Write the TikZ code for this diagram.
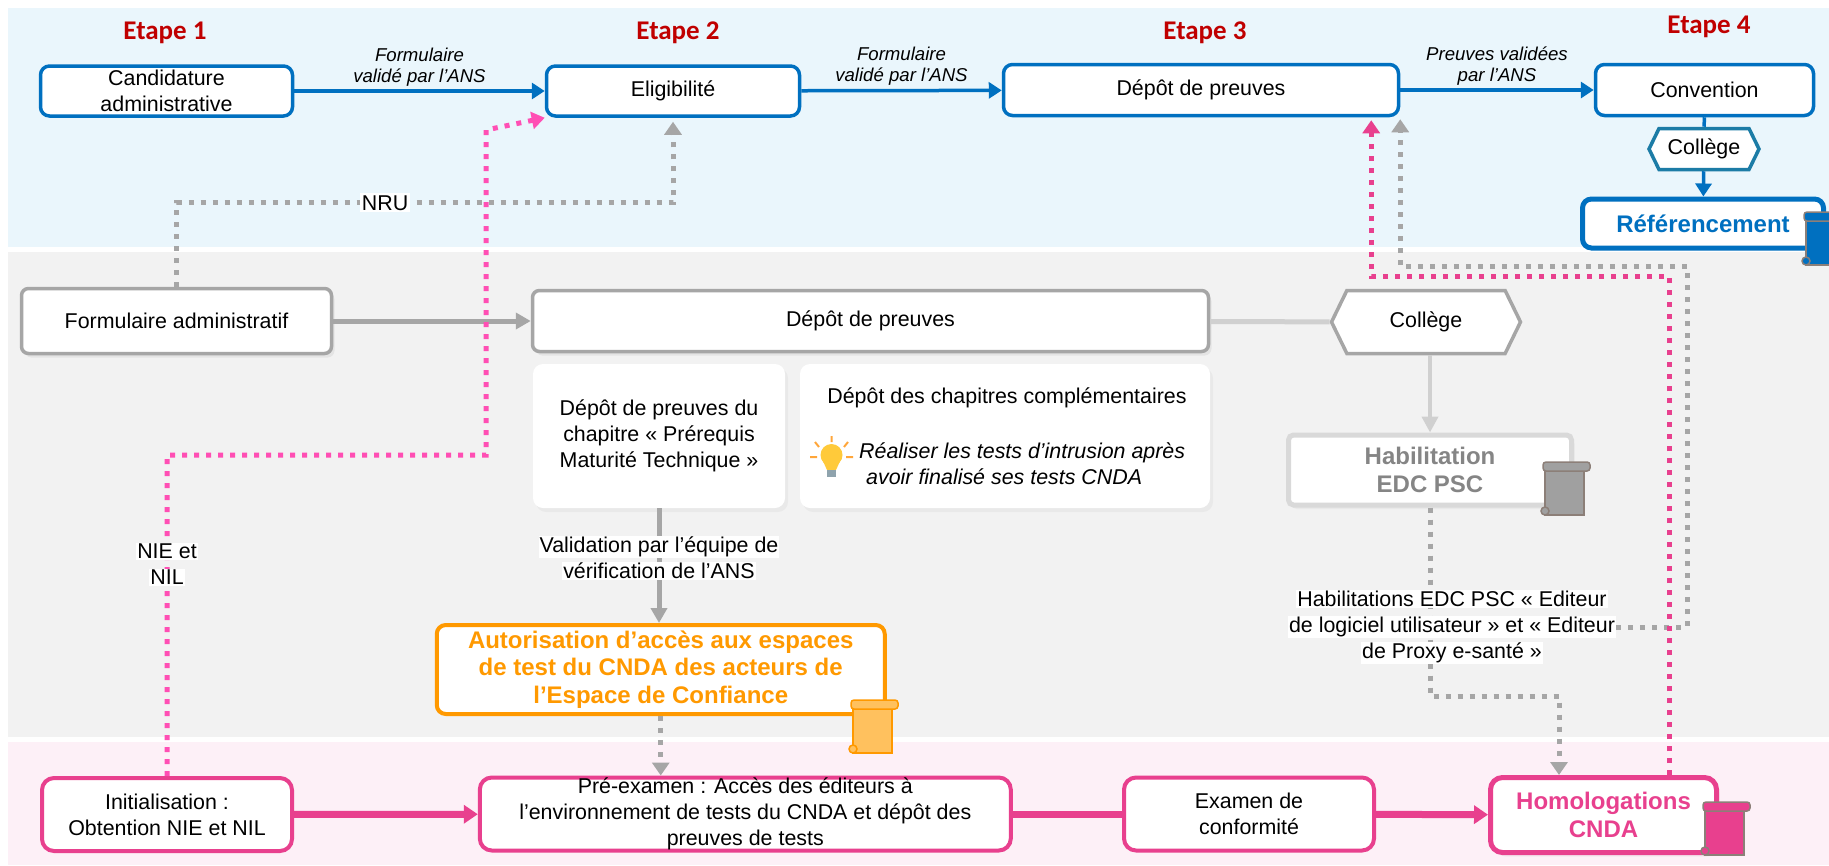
\documentclass[tikz,border=0pt]{standalone}
\usepackage{fontspec}
\setmainfont{Liberation Sans}
\newfontfamily\etapefont{Carlito}
\usetikzlibrary{arrows.meta, shapes.symbols, shadows}

\definecolor{bleuANS}{HTML}{0070C0}
\definecolor{bleuCollege}{HTML}{1C7CA6}
\definecolor{fondBleu}{HTML}{EAF6FC}
\definecolor{fondGris}{HTML}{F2F2F2}
\definecolor{fondRose}{HTML}{FDF0F7}
\definecolor{grisBord}{HTML}{A6A6A6}
\definecolor{grisClair}{HTML}{D0D0D0}
\definecolor{grisHabil}{HTML}{D9D9D9}
\definecolor{grisTexte}{HTML}{858585}
\definecolor{grisRouleau}{HTML}{A0A0A0}
\definecolor{orangeCNDA}{HTML}{FF9900}
\definecolor{orangeClair}{HTML}{FFC15E}
\definecolor{roseCNDA}{HTML}{E8408E}
\definecolor{rosePointille}{HTML}{FF4FB4}
\definecolor{rougeEtape}{HTML}{C00000}
\definecolor{brunRouleau}{HTML}{8C7F78}
\definecolor{jauneAmpoule}{HTML}{FFCA3A}
\definecolor{orangeRayon}{HTML}{FFA63A}
\definecolor{socleAmpoule}{HTML}{8FA3AD}

\newcommand{\policebox}{\fontsize{21.4pt}{26pt}\selectfont}
\newcommand{\policegras}{\fontsize{24pt}{27.5pt}\selectfont\bfseries}
\newcommand{\policelabel}{\fontsize{18.6pt}{21pt}\selectfont\itshape}
\newcommand{\surligne}[1]{{\setlength{\fboxsep}{1pt}\colorbox{white}{#1}}}

\begin{document}
\begin{tikzpicture}[x=1pt, y=-1pt,
    every node/.style={font=\policebox, align=center, inner sep=0pt},
    etape/.style={font=\etapefont\fontsize{27pt}{30pt}\selectfont\bfseries, text=rougeEtape},
    boitebleue/.style={draw=bleuANS, line width=3.5pt, rounded corners=9pt, fill=white},
    boitegrise/.style={draw=grisBord, line width=3.5pt, rounded corners=7pt, fill=white,
      drop shadow={opacity=0.12, shadow xshift=3pt, shadow yshift=-4pt}},
    boiterose/.style={draw=roseCNDA, line width=4pt, rounded corners=12pt, fill=white},
    carte/.style={fill=white, rounded corners=10pt,
      drop shadow={opacity=0.07, shadow xshift=3pt, shadow yshift=-4pt}},
    hexagone/.style={shape=signal, signal to=west and east, signal pointer angle=128, fill=white},
    etiquette/.style={font=\policelabel},
    fondblanc/.style={fill=white, inner sep=2pt},
    flechebleue/.style={draw=bleuANS, line width=3.5pt, -{Triangle[width=16pt,length=13pt]}},
    flechegrise/.style={draw=grisBord, line width=5pt, -{Triangle[width=16pt,length=15pt]}},
    flecherose/.style={draw=roseCNDA, line width=7pt, -{Triangle[width=18pt,length=14pt]}},
    pointgris/.style={draw=grisBord, line width=5pt, dash pattern=on 5pt off 7pt},
    pointrose/.style={draw=rosePointille, line width=5pt, dash pattern=on 5pt off 7pt},
    pointe/.style={-{Triangle[width=17pt,length=13pt]}},
    pics/rouleau/.style n args={2}{code={
      \draw[fill=#1, draw=#2, line width=1.5pt] (2,5) rectangle (41,53);
      \draw[fill=#1, draw=#2, line width=1.5pt, rounded corners=3pt] (0,0) rectangle (47,9);
      \draw[fill=#1, draw=#2, line width=1.5pt] (2,49) circle (4);
    }},
  ]
  \useasboundingbox[fill=white] (0,0) rectangle (1829,865);
  % bandeaux
  \fill[fondBleu] (8,8) rectangle (1829,247);
  \fill[fondGris] (8,252) rectangle (1829,737);
  \fill[fondRose] (8,742) rectangle (1829,865);

  % etapes
  \node[etape] (etape1) at (165,33) {Etape 1};
  \node[etape] (etape2) at (678,33) {Etape 2};
  \node[etape] (etape3) at (1205,33) {Etape 3};
  \node[etape] (etape4) at (1709,27) {Etape 4};

  % ligne du haut
  \node[boitebleue, minimum width=252pt, minimum height=50pt] (cand) at (166.5,91) {Candidature\\administrative};
  \node[boitebleue, minimum width=253pt, minimum height=50pt] (elig) at (673,91) {Eligibilité};
  \node[boitebleue, minimum width=395pt, minimum height=51pt] (depot) at (1201,90) {Dépôt de preuves};
  \node[boitebleue, minimum width=218pt, minimum height=51pt] (conv) at (1704.5,90) {Convention};
  \node[hexagone, draw=bleuCollege, line width=3.5pt, minimum width=110pt, minimum height=41pt] (college) at (1704,149) {Collège};
  \node[boitebleue, line width=5pt, minimum width=241pt, minimum height=49pt, font=\policegras, text=bleuANS] (refer) at (1703,223.5) {Référencement};

  \draw[flechebleue] (cand) -- node[etiquette, above=3pt] {Formulaire\\validé par l’ANS} (elig);
  \draw[flechebleue] (elig) -- node[etiquette, above=3pt] {Formulaire\\validé par l’ANS} (depot);
  \draw[flechebleue] (depot) -- node[etiquette, above=3pt] {Preuves validées\\par l’ANS} (conv);
  \draw[bleuANS, line width=3.5pt] (conv) -- (college);
  \draw[flechebleue] (college) -- (refer);

  % bandeau gris
  \node[boitegrise, minimum width=310pt, minimum height=65pt] (formul) at (176.5,321) {Formulaire administratif};
  \node[boitegrise, minimum width=676pt, minimum height=61pt] (depotm) at (870.5,321) {Dépôt de preuves};
  \node[hexagone, draw=grisBord, line width=3.5pt, minimum width=189pt, minimum height=63pt] (collegem) at (1426,322) {Collège};
  \node[draw=grisHabil, line width=5pt, fill=white, rounded corners=5pt, minimum width=283pt, minimum height=70pt,
    font=\policegras, text=grisTexte, drop shadow={opacity=0.08, shadow xshift=3pt, shadow yshift=-4pt}] (habil) at (1430,470) {Habilitation\\EDC PSC};
  \node[carte, minimum width=252pt, minimum height=144pt] (chap1) at (659,436) {Dépôt de preuves du\\chapitre « Prérequis\\Maturité Technique »};
  \node[carte, minimum width=410pt, minimum height=144pt] (chap2) at (1005,436) {};
  \node (chap2 titre) at (1007,398) {Dépôt des chapitres complémentaires};
  \node[anchor=west, align=left, font=\policebox\itshape] (conseil) at (859,464) {Réaliser les tests d’intrusion après\\\hspace{7pt}avoir finalisé ses tests CNDA};
  \node[draw=orangeCNDA, line width=4pt, fill=white, rounded corners=9pt, minimum width=448pt, minimum height=89pt,
    font=\policegras, text=orangeCNDA] (autor) at (660.75,669.5) {Autorisation d’accès aux espaces\\de test du CNDA des acteurs de\\l’Espace de Confiance};

  % ampoule
  \fill[jauneAmpoule] (831.5,455) circle (11);
  \fill[jauneAmpoule] (822,459) -- (841,459) -- (836,470) -- (827,470) -- cycle;
  \fill[socleAmpoule] (827,470) rectangle (836,477);
  \draw[orangeRayon, line width=2pt] (831.5,436) -- (831.5,442) (810,457) -- (817,457) (846,457) -- (853,457)
    (815,442) -- (819,447) (848,442) -- (844,447);

  % bandeau rose
  \node[boiterose, minimum width=250pt, minimum height=73pt] (init) at (167,814.5) {Initialisation :\\Obtention NIE et NIL};
  \node[boiterose, minimum width=531pt, minimum height=73pt] (preex) at (745.3,814) {Pré-examen : Accès des éditeurs à\\l’environnement de tests du CNDA et dépôt des\\preuves de tests};
  \node[boiterose, minimum width=250pt, minimum height=73pt] (examen) at (1249,814) {Examen de\\conformité};
  \node[boiterose, line width=5pt, minimum width=226pt, minimum height=75pt, font=\policegras, text=roseCNDA,
    drop shadow={opacity=0.08, shadow xshift=3pt, shadow yshift=-4pt}] (homol) at (1603.5,815) {Homologations\\CNDA};

  \draw[flecherose] (init) -- (preex);
  \draw[roseCNDA, line width=7pt] (preex) -- (examen);
  \draw[flecherose] (examen) -- (homol);

  % liaisons grises
  \draw[flechegrise] (formul) -- (depotm);
  \draw[grisClair, line width=5pt] (depotm) -- (collegem);
  \draw[grisClair, line width=4pt, -{Triangle[width=16pt,length=16pt]}] (habil.north |- collegem.south) -- (habil.north);
  \draw[flechegrise] (chap1.south) -- node[pos=0.43] {\surligne{Validation par l’équipe de}\\\surligne{vérification de l’ANS}} (chap1.south |- autor.north);
  \draw[pointgris, pointe] (autor.south) -- (autor.south |- preex.north);
  \draw[pointgris, pointe, shorten >=4pt] (formul.north) -- ++(0,-84) -| node[pos=0.21, fondblanc] {NRU} (elig.south);

  \coordinate (coude habil) at (1559,696);
  \draw[pointgris, pointe] (habil.south) |- (coude habil) -- (coude habil |- homol.north);
  \node (habil lab) at (1452,627) {\surligne{Habilitations EDC PSC « Editeur}\\\surligne{de logiciel utilisateur » et « Editeur}\\\surligne{de Proxy e-santé »}};
  \coordinate (coude depot) at (1687,266);
  \draw[pointgris, pointe, shorten >=2pt] (habil lab.east) -| (coude depot) -| (depot.south east);

  % liaisons roses
  \coordinate (coude nie) at (486,455);
  \coordinate (sommet nie) at (486,130);
  \draw[pointrose, pointe] (init.north) |- node[pos=0.33] {\surligne{NIE et}\\\surligne{NIL}} (coude nie) -- (sommet nie) -- (elig.south west);
  \coordinate (coude homol) at (1669,276);
  \draw[pointrose, draw=roseCNDA, pointe, shorten >=3pt] (coude homol |- homol.north) -- (coude homol) -| ([xshift=-29pt]depot.south east);

  % rouleaux
  \pic at (1543,462) {rouleau={grisRouleau}{brunRouleau}};
  \pic at (851,700) {rouleau={orangeClair}{orangeCNDA}};
  \pic at (1703,802) {rouleau={roseCNDA}{brunRouleau}};
  \pic at (1804,212) {rouleau={bleuANS}{brunRouleau}};
\end{tikzpicture}
\end{document}
